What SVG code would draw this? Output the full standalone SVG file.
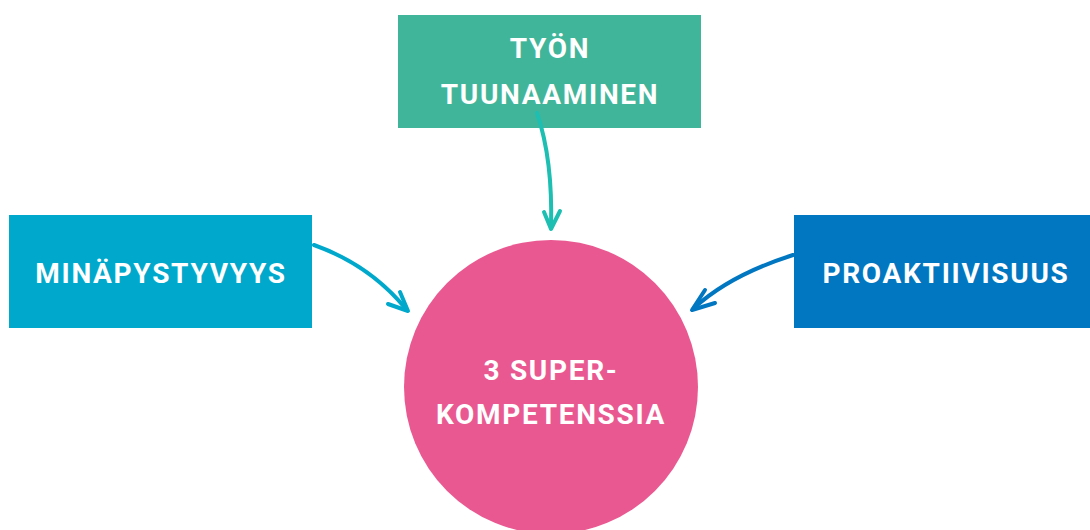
<svg xmlns="http://www.w3.org/2000/svg" width="1090" height="530" viewBox="0 0 1090 530">
<style>
.t{font-family:Roboto,"Liberation Sans",sans-serif;font-weight:bold;font-size:28px;fill:#fff;text-anchor:middle;letter-spacing:1.7px}
.c{fill:none;stroke-width:4;stroke-linecap:round;stroke-linejoin:round}
</style>
<rect width="1090" height="530" fill="#fff"/>
<g id="circle">
<circle cx="551" cy="387" r="147" fill="#ea5891"/>
<text class="t" x="551" y="380">3 SUPER-</text>
<text class="t" x="551" y="424">KOMPETENSSIA</text>
</g>
<g id="tyon">
<rect x="398" y="15" width="303" height="113" fill="#41b59a"/>
<text class="t" x="550" y="58">TYÖN</text>
<text class="t" x="550" y="104">TUUNAAMINEN</text>
</g>
<g id="mina">
<rect x="9" y="215" width="303" height="113" fill="#00a9cc"/>
<text class="t" x="161" y="283">MINÄPYSTYVYYS</text>
</g>
<g id="proak">
<rect x="794" y="215" width="296" height="113" fill="#0077c0"/>
<text class="t" x="946" y="283">PROAKTIIVISUUS</text>
</g>
<g id="connectors">
<path class="c" stroke="#1dbfb2" d="M537,113 Q553,160 551,228"/>
<path class="c" stroke="#1dbfb2" d="M544,212 L551,229 L560,211"/>
<path class="c" stroke="#00a9cc" d="M314,245 Q370,265 406,309"/>
<path class="c" stroke="#00a9cc" d="M400,292 L408,311 L388,304"/>
<path class="c" stroke="#0077c0" d="M793,255 Q730,275 694,308"/>
<path class="c" stroke="#0077c0" d="M705,290 L692,310 L715,303"/>
</g>
</svg>
